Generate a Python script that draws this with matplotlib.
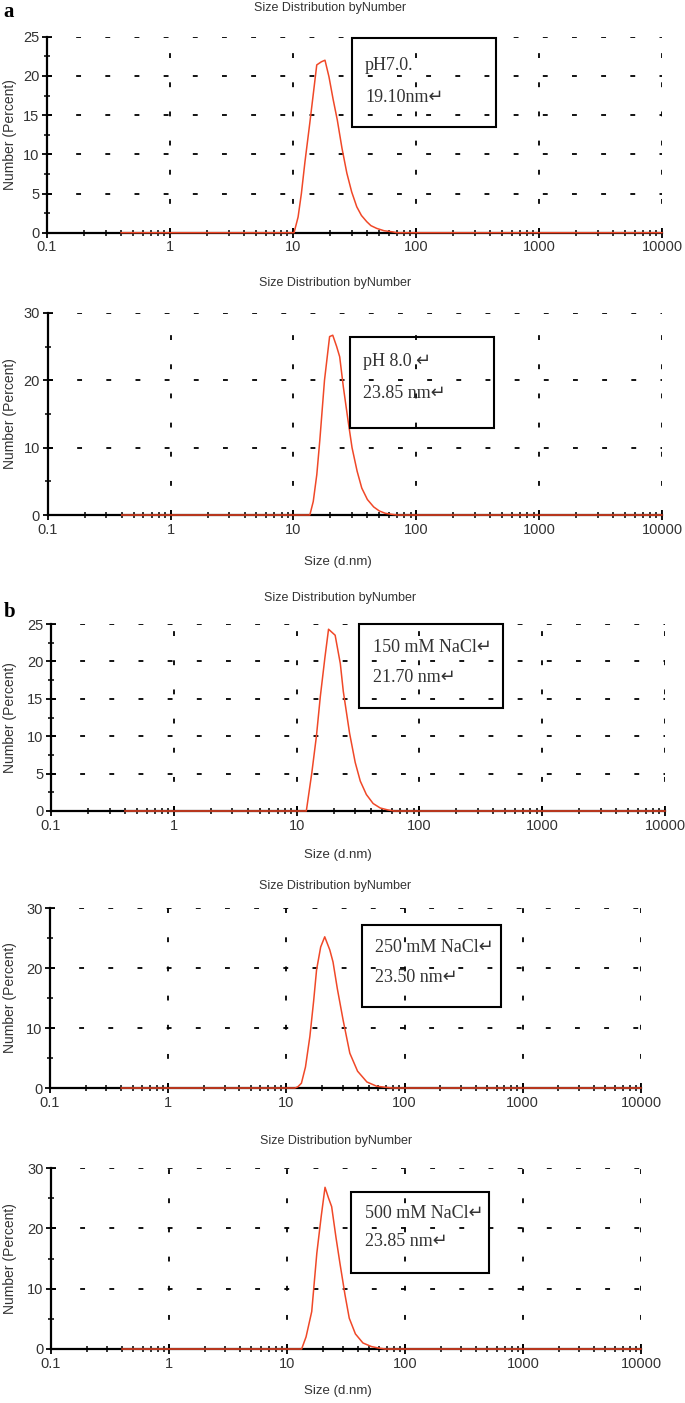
import numpy as np
import matplotlib.pyplot as plt
from matplotlib.patches import Rectangle
from matplotlib.ticker import LogLocator, FixedLocator, MultipleLocator

plt.rcParams['lines.scale_dashes'] = False

W, H = 685, 1403

# ================================
# DATA
# ================================

size_ph7 = [0.4, 10.2, 11.0, 11.7, 12.5, 13.7, 14.7, 15.6, 17.0, 18.2, 19.6, 21.2, 22.9,
            25.0, 27.4, 30.0, 33.0, 36.0, 39.8, 43.0, 47.9, 55.0, 65.0, 70.0, 10000]
num_ph7 = [0, 0, 2.0, 5.0, 9.0, 14.0, 18.0, 21.4, 21.8, 22.0, 19.9, 17.0, 14.4,
           10.8, 7.6, 5.2, 3.3, 2.2, 1.4, 0.9, 0.55, 0.25, 0.1, 0, 0]

size_ph8 = [0.4, 13.6, 14.5, 15.5, 16.4, 17.9, 19.7, 20.9, 22.5, 23.8, 25.5, 27.8,
            30.0, 33.0, 36.0, 40.0, 45.0, 50.0, 56.0, 63.0, 70.0, 10000]
num_ph8 = [0, 0, 2.0, 6.0, 11.1, 20.0, 26.5, 26.7, 25.0, 23.5, 19.0, 14.1,
           10.0, 6.5, 4.0, 2.3, 1.2, 0.6, 0.25, 0.1, 0, 0]

size_150 = [0.4, 12.0, 13.3, 14.5, 15.6, 17.0, 18.2, 20.6, 22.7, 24.0, 27.0, 30.0,
            33.0, 37.0, 42.0, 48.0, 55.0, 62.0, 10000]
num_150 = [0, 0, 5.1, 10.0, 15.3, 20.5, 24.3, 23.5, 19.7, 16.0, 10.4, 6.5,
           4.0, 2.2, 1.0, 0.4, 0.15, 0, 0]

size_250 = [0.4, 11.8, 12.5, 13.4, 14.5, 15.8, 17.0, 18.0, 19.5, 21.1, 23.3, 24.8,
            27.0, 30.2, 34.4, 40.0, 48.0, 58.0, 70.0, 80.0, 10000]
num_250 = [0, 0, 0.2, 0.8, 3.5, 8.6, 14.5, 19.7, 23.5, 25.2, 23.0, 21.0,
           16.5, 11.3, 5.8, 2.8, 1.0, 0.3, 0.1, 0, 0]

size_500 = [0.4, 13.3, 14.5, 16.2, 17.9, 19.5, 21.0, 22.5, 23.9, 26.0, 28.1, 31.0,
            33.7, 38.0, 44.0, 52.0, 60.0, 68.0, 10000]
num_500 = [0, 0, 2.0, 6.2, 15.9, 22.0, 26.8, 25.0, 23.6, 18.5, 14.2, 9.0,
           5.1, 2.5, 1.0, 0.4, 0.15, 0, 0]

box_lines = [
    ["pH7.0.", "19.10nm\u21b5"],
    ["pH 8.0 \u21b5", "23.85 nm\u21b5"],
    ["150 mM NaCl\u21b5", "21.70 nm\u21b5"],
    ["250 mM NaCl\u21b5", "23.50 nm\u21b5"],
    ["500 mM NaCl\u21b5", "23.85 nm\u21b5"],
]

x_ticks = [0.1, 1, 10, 100, 1000, 10000]
x_ticklabels = ["0.1", "1", "10", "100", "1000", "10000"]

# ================================
# LAYOUT (pixels in the 685x1403 picture)
# ================================

# left, right, top, bottom, ymax, ystep, has_xlabel
PANELS = [
    (47, 662, 36.7, 232.7, 25, 5, False),
    (47.7, 662, 313, 515, 30, 10, True),
    (51, 665, 624, 811, 25, 5, True),
    (50, 641, 908, 1088, 30, 10, False),
    (51, 641, 1168, 1349, 30, 10, True),
]
TITLE_Y = [8, 283, 598, 886, 1141]
TITLE_X = [330, 335, 340, 335, 336]
XLABEL_Y = [None, 562, 855, None, 1391]
BOXES = [  # x0, x1, y0, y1, text left, line1 y, line2 y
    (352, 496, 38, 127, 365, 65, 97),
    (350, 494, 337, 428, 363, 362, 394),
    (359, 503, 624, 708, 373, 648, 677),
    (362, 501, 925, 1007, 375, 948, 977),
    (351, 489, 1192, 1273, 365, 1213, 1242),
]

RED = "#f04828"
TXT = "#333333"


def fx(x):
    return x / W


def fy(y):
    return 1 - y / H


fig = plt.figure(figsize=(W / 100, H / 100), dpi=100)

series = [(size_ph7, num_ph7), (size_ph8, num_ph8), (size_150, num_150),
          (size_250, num_250), (size_500, num_500)]

for i, (l, r, t, b, ymax, ystep, has_xl) in enumerate(PANELS):
    ax = fig.add_axes([fx(l), fy(b), (r - l) / W, (b - t) / H])
    xs, ys = series[i]
    ax.plot(xs, ys, color=RED, lw=1.1, zorder=4, clip_on=False)

    ax.set_xscale("log")
    ax.set_xlim(0.1, 10000)
    ax.set_ylim(0, ymax)
    ax.xaxis.set_major_locator(FixedLocator(x_ticks))
    ax.set_xticklabels(x_ticklabels)
    ax.xaxis.set_minor_locator(LogLocator(base=10, subs=np.arange(2, 10), numticks=20))
    ax.yaxis.set_major_locator(MultipleLocator(ystep))
    ax.yaxis.set_minor_locator(MultipleLocator(ystep / 2))

    for s in ["top", "right"]:
        ax.spines[s].set_visible(False)
    for s in ["left", "bottom"]:
        ax.spines[s].set_linewidth(1.6)
        ax.spines[s].set_color("black")

    ax.tick_params(axis="both", which="major", direction="inout", length=7,
                   width=1.3, color="black", labelsize=10.5, labelcolor=TXT, pad=2)
    ax.tick_params(axis="both", which="minor", direction="inout", length=5,
                   width=1.1, color="black")
    for lab in ax.get_xticklabels() + ax.get_yticklabels():
        lab.set_fontfamily("Liberation Sans")

    ax.grid(True, which="major", color="black", lw=1.3, linestyle=(0, (3.5, 17.5)))
    ax.set_axisbelow(False)

    # y label
    fig.text(fx(10), fy((t + b) / 2), "Number (Percent)", rotation=90,
             ha="center", va="center", fontsize=10, color=TXT,
             family="Liberation Sans")

    fig.text(fx(TITLE_X[i]), fy(TITLE_Y[i]), "Size Distribution byNumber",
             ha="center", va="center", fontsize=9, color=TXT,
             family="Liberation Sans")
    if has_xl:
        fig.text(fx(338), fy(XLABEL_Y[i]), "Size (d.nm)", ha="center",
                 va="center", fontsize=9.5, color=TXT, family="Liberation Sans")

    x0, x1, y0, y1, tx, ly1, ly2 = BOXES[i]
    fig.add_artist(Rectangle((fx(x0), fy(y1)), (x1 - x0) / W, (y1 - y0) / H,
                             transform=fig.transFigure, fill=False,
                             edgecolor="black", lw=1.5, zorder=5))
    for txt, ly in zip(box_lines[i], [ly1, ly2]):
        fig.text(fx(tx), fy(ly), txt, ha="left", va="center", fontsize=13,
                 color=TXT, family=["Liberation Serif", "DejaVu Sans"], zorder=6)

fig.text(fx(3), fy(12), "a", fontsize=15, fontweight="bold",
         family="Liberation Serif", ha="left", va="center")
fig.text(fx(4), fy(612), "b", fontsize=15, fontweight="bold",
         family="Liberation Serif", ha="left", va="center")

fig.savefig("out.png", dpi=100)
